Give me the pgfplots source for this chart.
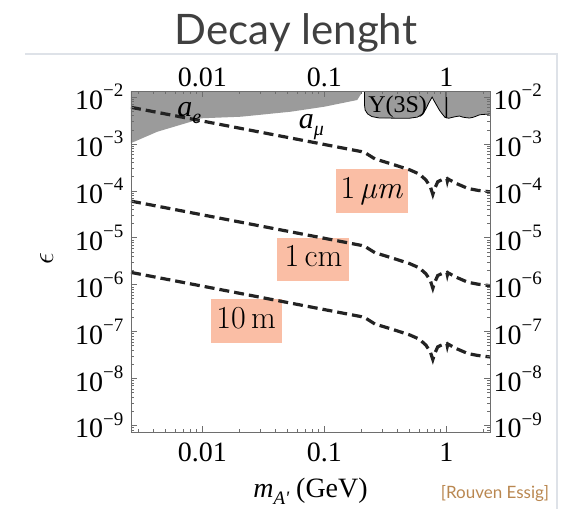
\documentclass[border=0pt]{standalone}
\usepackage[no-math]{fontspec}
\setmainfont{Liberation Serif}
\newfontfamily\lato{Lato}
\newfontfamily\lmr{Latin Modern Roman}
\usepackage{pgfplots}
\pgfplotsset{compat=1.18}

\definecolor{salmon}{RGB}{250,190,165}
\definecolor{region}{RGB}{155,155,155}
\definecolor{curve}{RGB}{35,35,35}
\definecolor{titlegray}{RGB}{64,64,64}
\definecolor{essig}{RGB}{185,135,80}
\definecolor{framegray}{RGB}{222,226,232}
\definecolor{axisgray}{RGB}{110,110,110}

\newcommand{\pw}[1]{10\raisebox{0.45em}{\fontsize{19}{19}\selectfont −#1}}

% decay-length contours, eps vs m_A' (GeV)
\pgfplotstableread{
m       um       cm       tenm
0.0026  6.06e-3  6.06e-5  1.83e-6
0.01    3.09e-3  3.09e-5  9.33e-7
0.1     9.77e-4  9.77e-6  2.95e-7
0.2     6.91e-4  6.91e-6  2.09e-7
0.22    6.31e-4  6.31e-6  1.91e-7
0.26    4.81e-4  4.81e-6  1.45e-7
0.35    3.80e-4  3.80e-6  1.15e-7
0.5     2.82e-4  2.82e-6  8.52e-8
0.6     2.29e-4  2.29e-6  6.92e-8
0.68    1.71e-4  1.71e-6  5.16e-8
0.74    1.22e-4  1.22e-6  3.68e-8
0.775   8.41e-5  8.41e-7  2.54e-8
0.80    1.10e-4  1.10e-6  3.32e-8
0.85    1.57e-4  1.57e-6  4.74e-8
0.92    1.73e-4  1.73e-6  5.22e-8
0.98    1.75e-4  1.75e-6  5.29e-8
1.01    1.81e-4  1.81e-6  5.47e-8
1.019   1.62e-4  1.62e-6  4.89e-8
1.03    1.80e-4  1.80e-6  5.44e-8
1.2     1.45e-4  1.45e-6  4.38e-8
1.5     1.13e-4  1.13e-6  3.41e-8
1.8     1.03e-4  1.03e-6  3.11e-8
2.28    9.55e-5  9.55e-7  2.88e-8
}\curves

\begin{document}
\begin{tikzpicture}
\path[use as bounding box] (0,0) rectangle (575pt,509pt);
\draw[framegray, line width=1.2pt] (25pt,455pt) -- (557pt,455pt) -- (557pt,0pt);

\begin{axis}[
    at={(131pt,77pt)}, anchor=south west,
    width=359pt, height=341pt, scale only axis,
    xmode=log, ymode=log,
    xmin=0.0026, xmax=2.28, ymin=7.24e-10, ymax=1.349e-2,
    xtick={0.01,0.1,1}, xticklabels={0.01,0.1,1},
    minor xtick={0.003,0.004,0.005,0.006,0.007,0.008,0.009,
        0.02,0.03,0.04,0.05,0.06,0.07,0.08,0.09,
        0.2,0.3,0.4,0.5,0.6,0.7,0.8,0.9,2},
    ytick={1e-9,1e-8,1e-7,1e-6,1e-5,1e-4,1e-3,1e-2},
    yticklabels={\pw{9},\pw{8},\pw{7},\pw{6},\pw{5},\pw{4},\pw{3},\pw{2}},
    minor ytick={8e-10,9e-10,
        2e-9,3e-9,4e-9,5e-9,6e-9,7e-9,8e-9,9e-9,
        2e-8,3e-8,4e-8,5e-8,6e-8,7e-8,8e-8,9e-8,
        2e-7,3e-7,4e-7,5e-7,6e-7,7e-7,8e-7,9e-7,
        2e-6,3e-6,4e-6,5e-6,6e-6,7e-6,8e-6,9e-6,
        2e-5,3e-5,4e-5,5e-5,6e-5,7e-5,8e-5,9e-5,
        2e-4,3e-4,4e-4,5e-4,6e-4,7e-4,8e-4,9e-4,
        2e-3,3e-3,4e-3,5e-3,6e-3,7e-3,8e-3,9e-3},
    tick align=inside,
    major tick length=6pt, minor tick length=3.5pt,
    axis line style={axisgray, line width=0.9pt},
    every tick/.style={axisgray, line width=0.7pt},
    ticklabel style={font=\fontsize{28}{28}\selectfont},
    xticklabel style={yshift=-7pt},
    yticklabel style={xshift=-4pt},
    axis on top,
    xlabel={{\itshape m}\raisebox{-0.28em}{\fontsize{19}{19}\selectfont\itshape A\textquotesingle}\ (GeV)},
    xlabel style={at={(axis description cs:0.5,-0.191)}, anchor=base,
        font=\fontsize{28}{28}\selectfont},
    ylabel={\scalebox{1.2}{$\epsilon$}},
    ylabel style={at={(axis description cs:-0.235,0.51)}, anchor=center,
        font=\fontsize{26}{26}\selectfont},
]
% a_e / a_mu excluded area
\addplot[fill=region, draw=none] coordinates {
    (0.0025,0.02) (0.0025,1.0e-3) (0.00428,1.83e-3) (0.00807,2.99e-3)
    (0.00975,3.53e-3) (0.0208,3.82e-3) (0.0533,4.89e-3) (0.1,6.24e-3)
    (0.186,8.67e-3) (0.205,1.3e-2) (0.214,0.02)
};
% Upsilon(3S) and higher-mass area
\addplot[fill=region, draw=black, line width=0.8pt] coordinates {
    (0.213,0.02) (0.213,7e-3) (0.216,5.3e-3) (0.226,4.4e-3) (0.245,3.85e-3)
    (0.28,3.6e-3) (0.40,3.55e-3) (0.50,3.55e-3) (0.58,3.75e-3) (0.64,4.4e-3)
    (0.68,5.6e-3) (0.72,7.6e-3) (0.765,1.0e-2) (0.79,8.5e-3) (0.83,6.8e-3)
    (0.88,5.2e-3) (0.93,4.3e-3) (0.975,3.7e-3) (0.993,3.65e-3) (0.996,0.02)
    (1.004,0.02) (1.006,3.6e-3) (1.05,3.55e-3) (1.12,3.7e-3) (1.2,3.85e-3)
    (1.28,3.95e-3) (1.36,3.75e-3) (1.45,3.65e-3) (1.55,3.58e-3) (1.65,3.7e-3)
    (1.75,3.9e-3) (1.85,4.15e-3) (1.95,4.25e-3) (2.1,4.3e-3) (2.4,4.4e-3)
    (2.4,0.02)
};

\node[fill=salmon, minimum width=72pt, minimum height=44pt, inner sep=0pt,
    text height=20pt, text depth=5pt, font=\lmr\fontsize{32}{32}\selectfont]
    at (axis cs:0.245,9.8e-5) {1\,\textit{µm}};
\node[fill=salmon, minimum width=72pt, minimum height=43pt, inner sep=0pt,
    text height=20pt, text depth=5pt, font=\lmr\fontsize{32}{32}\selectfont]
    at (axis cs:0.0813,3.48e-6) {1\,cm};
\node[fill=salmon, minimum width=71pt, minimum height=44pt, inner sep=0pt,
    text height=20pt, text depth=5pt, font=\lmr\fontsize{32}{32}\selectfont]
    at (axis cs:0.0228,1.68e-7) {10\,m};

\addplot[curve, line width=3.2pt, dash pattern=on 10pt off 5pt, mark=none] table[x=m, y=um] {\curves};
\addplot[curve, line width=3.2pt, dash pattern=on 10pt off 5pt, mark=none] table[x=m, y=cm] {\curves};
\addplot[curve, line width=3.2pt, dash pattern=on 10pt off 5pt, mark=none] table[x=m, y=tenm] {\curves};

\node[font=\fontsize{30}{30}\selectfont\itshape] at (axis cs:0.00782,4.58e-3)
    {a\raisebox{-0.22em}{\fontsize{20}{20}\selectfont e}};
\node[font=\fontsize{30}{30}\selectfont\itshape] at (axis cs:0.0782,2.3e-3)
    {a\raisebox{-0.22em}{\fontsize{20}{20}\selectfont μ}};
\node[font=\fontsize{24}{24}\selectfont] at (axis cs:0.399,6.2e-3) {Υ(3S)};
\end{axis}

\begin{axis}[
    at={(131pt,77pt)}, anchor=south west,
    width=359pt, height=341pt, scale only axis,
    xmode=log, ymode=log,
    xmin=0.0026, xmax=2.28, ymin=7.24e-10, ymax=1.349e-2,
    xtick={0.01,0.1,1}, xticklabels={0.01,0.1,1},
    ytick={1e-9,1e-8,1e-7,1e-6,1e-5,1e-4,1e-3,1e-2},
    yticklabels={\pw{9},\pw{8},\pw{7},\pw{6},\pw{5},\pw{4},\pw{3},\pw{2}},
    xticklabel pos=right, yticklabel pos=right,
    axis line style={draw=none},
    major tick length=0pt, minor tick length=0pt,
    ticklabel style={font=\fontsize{28}{28}\selectfont},
    xticklabel style={yshift=1pt},
]
\end{axis}

\node[anchor=base, font=\lato\fontsize{42}{42}\selectfont, text=titlegray]
    at (296pt,464pt) {Decay lenght};
\node[anchor=base, font=\lato\fontsize{17}{17}\selectfont, text=essig]
    at (495pt,11pt) {[Rouven Essig]};
\end{tikzpicture}
\end{document}
